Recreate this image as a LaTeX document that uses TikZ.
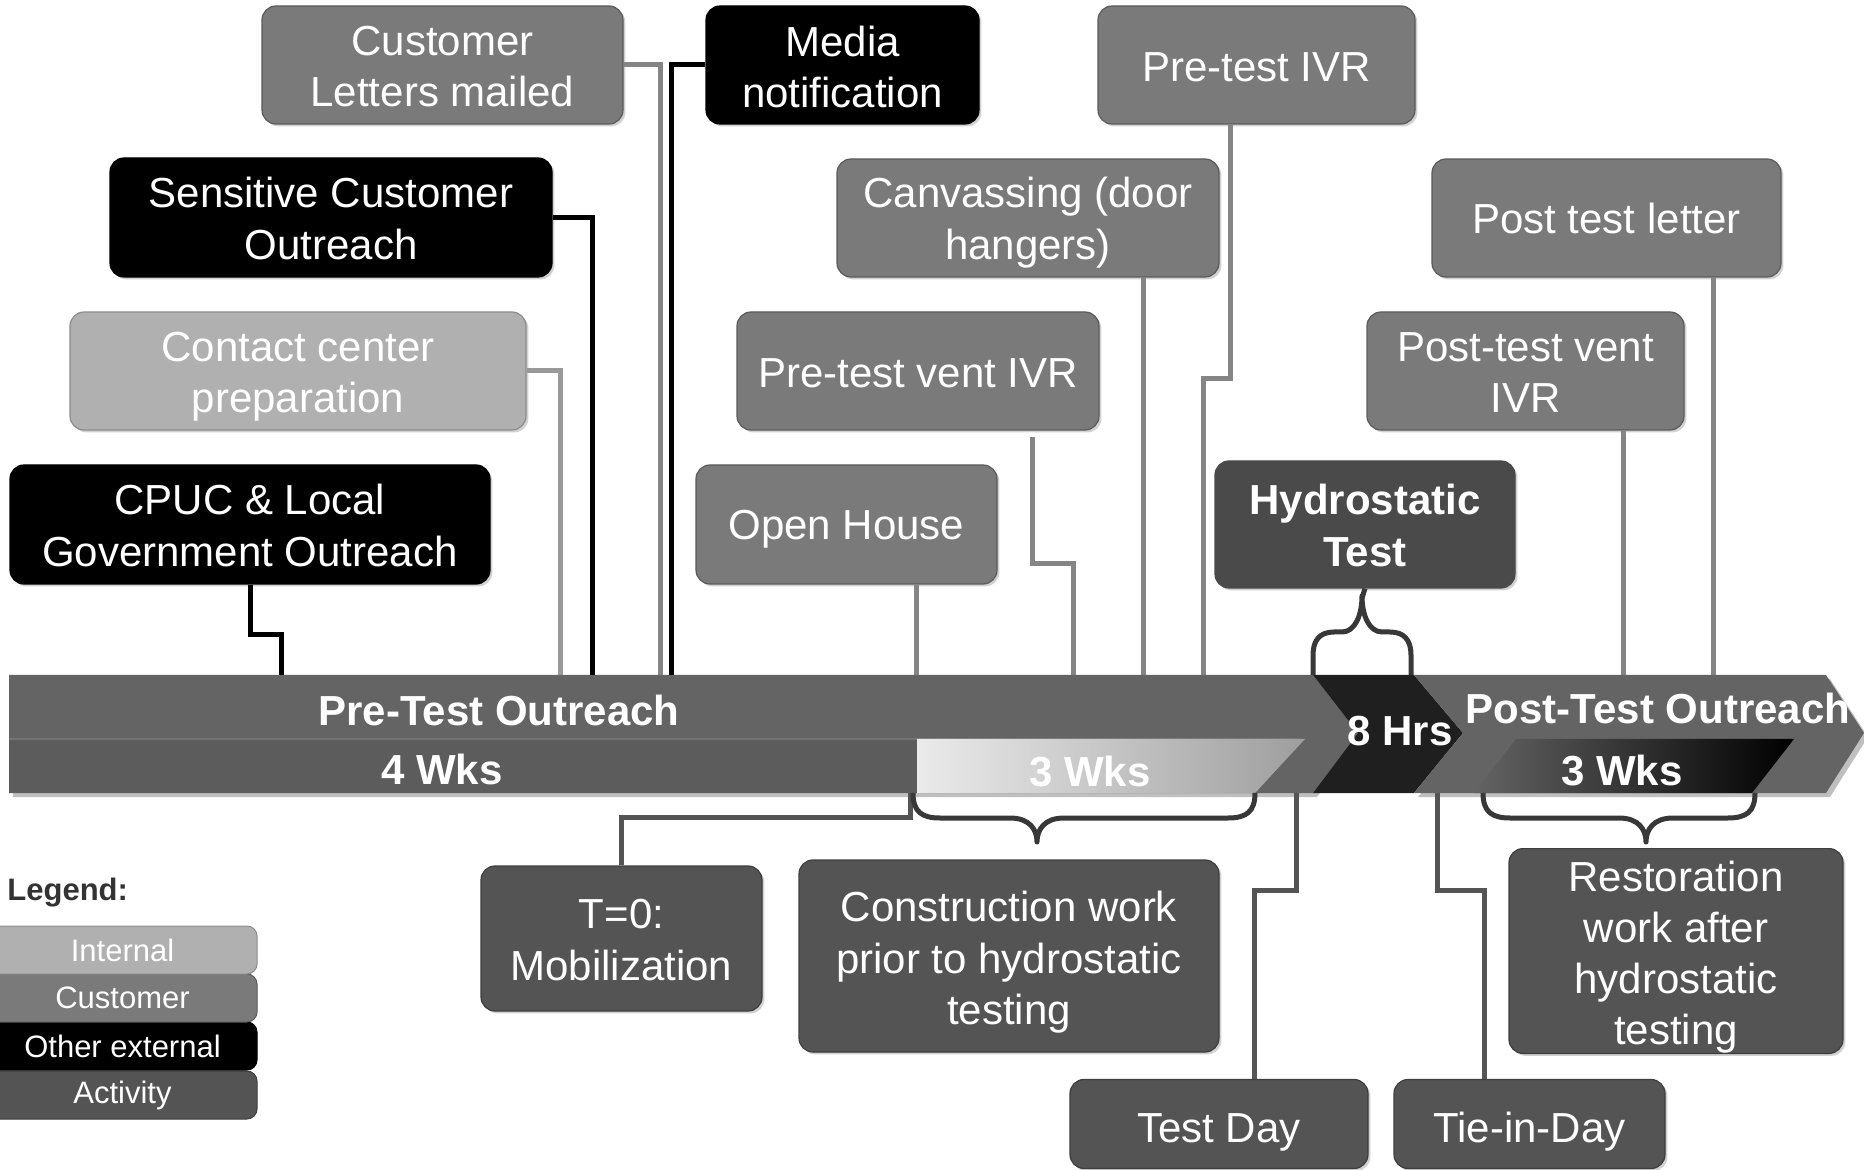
\documentclass[tikz,border=0pt]{standalone}
\usepackage{fontspec}
\setmainfont{Liberation Sans}
\usetikzlibrary{shadows}
\definecolor{custgray}{HTML}{7A7A7A}
\definecolor{custedge}{HTML}{5A5A5A}
\definecolor{intgray}{HTML}{B0B0B0}
\definecolor{intedge}{HTML}{8C8C8C}
\definecolor{actgray}{HTML}{545454}
\definecolor{actedge}{HTML}{3E3E3E}
\definecolor{hydgray}{HTML}{4A4A4A}
\definecolor{bargray}{HTML}{646464}
\definecolor{subgray}{HTML}{5C5C5C}
\definecolor{linecust}{HTML}{858585}
\definecolor{lineint}{HTML}{999999}
\definecolor{bracecol}{HTML}{383838}
\definecolor{legtext}{HTML}{333333}
\newcommand\boxtext[2][2.9pt]{\raisebox{-#1}[\height][\depth]{\begin{tabular}{@{}c@{}}#2\end{tabular}}}
\tikzset{
  base/.style={rounded corners=7pt, text=white, inner sep=0pt,
    font=\fontsize{21}{25.6}\selectfont, line width=0.6pt,
    drop shadow={shadow xshift=1.2pt, shadow yshift=-1.2pt, fill=black!30, opacity=0.6}},
  cust/.style={base, fill=custgray, draw=custedge},
  intl/.style={base, fill=intgray, draw=intedge},
  ext/.style={base, fill=black, draw=black},
  act/.style={base, fill=actgray, draw=actedge},
  hyd/.style={base, fill=hydgray, draw=hydgray, font=\fontsize{21}{25.6}\selectfont\bfseries},
  legbox/.style={rounded corners=5pt, align=center, text=white, inner sep=0pt,
    font=\fontsize{15.5}{18}\selectfont, line width=0.5pt,
    minimum width=134.5pt, minimum height=24pt},
  barlabel/.style={text=white, font=\fontsize{21}{26}\selectfont\bfseries, inner sep=0pt},
  conn/.style={line width=2.5pt},
  ccust/.style={conn, draw=linecust},
  cint/.style={conn, draw=lineint},
  cext/.style={conn, draw=black},
  cact/.style={conn, draw=actgray},
  bracepath/.style={line width=2.5pt, draw=bracecol, line join=round},
}
\begin{document}
\begin{tikzpicture}[x=0.5pt,y=-0.5pt]
\useasboundingbox (0,0) rectangle (1864,1170);
\clip (0,0) rectangle (1864,1170);

% ---------- timeline bar ----------
\fill[black!25] (13,679) -- (1317,679) -- (1362,737) -- (1317,797) -- (13,797) -- cycle;
\fill[bargray] (9,675) -- (1313,675) -- (1358,733) -- (1313,793) -- (9,793) -- cycle;
\fill[subgray] (9,739) rectangle (917,793);
\draw[black!55, line width=0.8pt] (9,739) -- (1300,739);
\shade[left color=white!92!black, right color=black!38] (917,739) -- (1305,739) -- (1255,793) -- (917,793) -- cycle;
\fill[black!25] (1418,679) -- (1830,679) -- (1868,737) -- (1830,797) -- (1418,797) -- (1467,737) -- cycle;
\fill[black!88] (1313,675) -- (1414,675) -- (1463,733) -- (1414,793) -- (1313,793) -- (1358,733) -- cycle;
\fill[bargray] (1414,675) -- (1826,675) -- (1864,733) -- (1826,793) -- (1414,793) -- (1463,733) -- cycle;
\shade[left color=bargray, right color=black] (1516,739) -- (1794,739) -- (1752,793) -- (1474,793) -- cycle;

\node[barlabel] (lpre) at (499,710) {Pre-Test Outreach};
\node[barlabel] (l4w) at (442,769) {4 Wks};
\node[barlabel] (l3wa) at (1090,772) {3 Wks};
\node[barlabel] (l8h) at (1400,731) {8 Hrs};
\node[barlabel] (lpost) at (1658,708) {Post-Test Outreach};
\node[barlabel] (l3wb) at (1622,771) {3 Wks};

% ---------- boxes ----------
\node[cust, minimum width=180.5pt, minimum height=59pt] (letters) at (442.5,65) {\boxtext{Customer\\Letters mailed}};
\node[ext, minimum width=136.5pt, minimum height=59pt] (media) at (842.5,65) {\boxtext[3.4pt]{Media\\notification}};
\node[cust, minimum width=158.5pt, minimum height=59pt] (pivr) at (1256.5,65) {\boxtext[3.2pt]{Pre-test IVR}};
\node[ext, minimum width=221pt, minimum height=59.5pt] (sens) at (331,217.5) {\boxtext{Sensitive Customer\\Outreach}};
\node[cust, minimum width=191pt, minimum height=59pt] (canv) at (1028,218) {\boxtext[2.6pt]{Canvassing (door\\hangers)}};
\node[cust, minimum width=174.5pt, minimum height=59pt] (ptl) at (1606.5,218) {\boxtext[2.8pt]{Post test letter}};
\node[intl, minimum width=228pt, minimum height=59pt] (cc) at (298,371) {\boxtext[3.0pt]{Contact center\\preparation}};
\node[cust, minimum width=181pt, minimum height=59pt] (pvent) at (918,371) {\boxtext[3.0pt]{Pre-test vent IVR}};
\node[cust, minimum width=158.5pt, minimum height=59pt] (postvent) at (1525.5,371) {\boxtext[3.0pt]{Post-test vent\\IVR}};
\node[ext, minimum width=240pt, minimum height=59.5pt] (cpuc) at (250,524.5) {\boxtext{CPUC \& Local\\Government Outreach}};
\node[cust, minimum width=150.5pt, minimum height=59.5pt] (open) at (846.5,524.5) {\boxtext[2.6pt]{Open House}};
\node[hyd, minimum width=150pt, minimum height=63.5pt] (hydro) at (1365,524.5) {\boxtext{Hydrostatic\\Test}};
\node[act, minimum width=140.5pt, minimum height=72.5pt] (t0) at (621.5,938.5) {\boxtext{T=0:\\Mobilization}};
\node[act, minimum width=210pt, minimum height=96pt] (constr) at (1009,956) {\boxtext[3.4pt]{Construction work\\prior to hydrostatic\\testing}};
\node[act, minimum width=167pt, minimum height=101pt] (restor) at (1676,951) {\boxtext[3.4pt]{Restoration\\work after\\hydrostatic\\testing}};
\node[act, minimum width=149pt, minimum height=44.5pt] (testday) at (1219,1124) {\boxtext[4.0pt]{Test Day}};
\node[act, minimum width=135.5pt, minimum height=44.5pt] (tiein) at (1529.5,1124) {\boxtext[4.0pt]{Tie-in-Day}};

% ---------- connector end points on the bar ----------
\coordinate (eletters) at (660,675);
\coordinate (emedia) at (671,675);
\coordinate (esens) at (592,675);
\coordinate (ecc) at (560,675);
\coordinate (ecpuc) at (281,675);
\coordinate (eopen) at (916,675);
\coordinate (epvent) at (1073,675);
\coordinate (ecanv) at (1143,675);
\coordinate (epivr) at (1203,675);
\coordinate (epostvent) at (1623,675);
\coordinate (eptl) at (1713,675);
\coordinate (st0) at (910,793);
\coordinate (stest) at (1296,793);
\coordinate (stie) at (1437,793);

% ---------- top connectors ----------
\draw[cint] (cc.east) -| (ecc);
\draw[cext] (sens.east) -| (esens);
\draw[ccust] (letters.east) -| (eletters);
\draw[cext] (media.west) -| (emedia);
\draw[cext] (cpuc.south) -- ++(0,50) -| (ecpuc);
\draw[ccust] (eopen |- open.south) -- (eopen);
\draw[ccust] (pvent.south) ++(114,6) -- ++(0,127) -| (epvent);
\draw[ccust] (ecanv |- canv.south) -- (ecanv);
\draw[ccust] (pivr.south) ++(-26,0) -- ++(0,254) -| (epivr);
\draw[ccust] (epostvent |- postvent.south) -- (epostvent);
\draw[ccust] (eptl |- ptl.south) -- (eptl);

% ---------- bottom connectors ----------
\draw[cact] (st0) -- ++(0,24) -| (t0.north);
\draw[cact] (stest) -- ++(0,97) -| ([xshift=17.5pt]testday.north);
\draw[cact] (stie) -- ++(0,97) -| ([xshift=-22.75pt]tiein.north);

% ---------- braces ----------
\draw[bracepath] (1313,675) -- (1313,655) .. controls (1313,640) and (1320,632) .. (1334,632) -- (1342,632)
  .. controls (1355,632) and (1362,615) .. (1362,596)
  .. controls (1362,615) and (1369,632) .. (1382,632) -- (1390,632)
  .. controls (1404,632) and (1411,640) .. (1411,655) -- (1411,675);
\draw[bracepath] (1362,598) -- (hydro.south);
\draw[bracepath] (913,793) .. controls (913,812) and (922,818) .. (940,818) -- (1010,818)
  .. controls (1030,818) and (1037,830) .. (1037,842)
  .. controls (1037,830) and (1044,818) .. (1064,818) -- (1228,818)
  .. controls (1246,818) and (1255,812) .. (1255,793);
\draw[bracepath] (1483,793) .. controls (1483,812) and (1492,818) .. (1510,818) -- (1619,818)
  .. controls (1639,818) and (1646,830) .. (1646,842)
  .. controls (1646,830) and (1653,818) .. (1673,818) -- (1728,818)
  .. controls (1746,818) and (1755,812) .. (1755,793);

% ---------- legend ----------
\node[text=legtext, font=\fontsize{15.5}{18}\selectfont\bfseries, anchor=west, inner sep=0pt] (legtitle) at (7,893) {Legend:};
\node[legbox, fill=actgray, draw=actedge] (legact) at (122.5,1095) {Activity};
\node[legbox, fill=black, draw=black] (legext) at (122.5,1046) {Other external};
\node[legbox, fill=custgray, draw=custedge] (legcust) at (122.5,998) {Customer};
\node[legbox, fill=intgray, draw=intedge] (legint) at (122.5,950) {Internal};
\end{tikzpicture}
\end{document}
